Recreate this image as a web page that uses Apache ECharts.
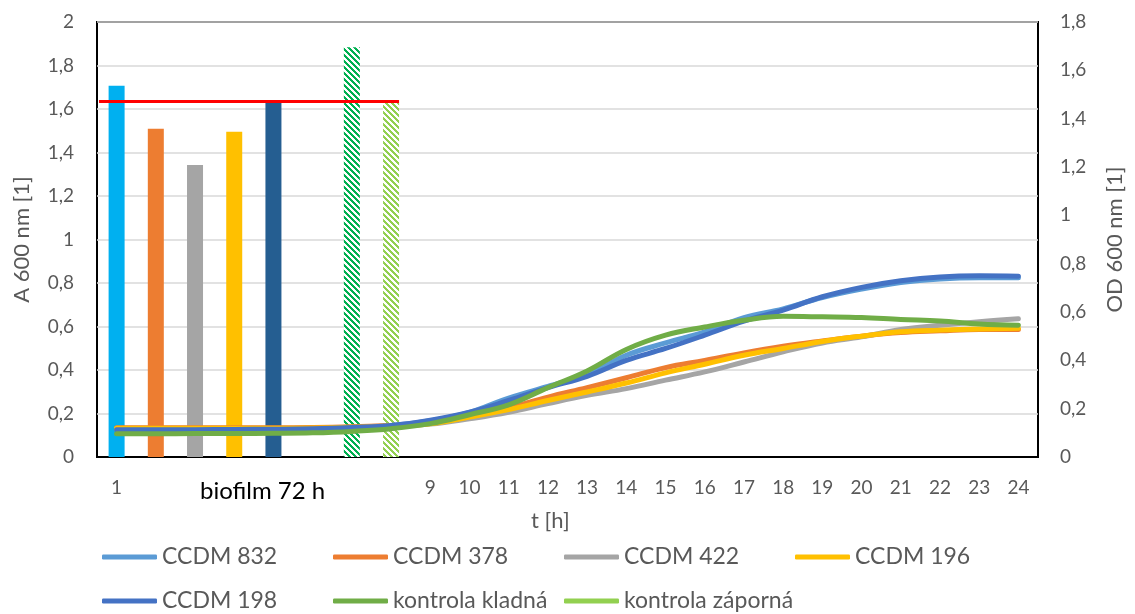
<!DOCTYPE html>
<html>
<head>
<meta charset="utf-8">
<script src="https://cdn.jsdelivr.net/npm/echarts@6/dist/echarts.min.js"></script>
<style>
html,body{margin:0;padding:0;background:#fff;}
#chart{width:1135px;height:614px;}
</style>
</head>
<body>
<div id="chart"></div>
<script>
// ---------- DATA ----------
const categories = ['1','2','3','4','5','6','7','8','9','10','11','12','13','14','15','16','17','18','19','20','21','22','23','24'];
const xTickLabels = ['1','','','','','','','','9','10','11','12','13','14','15','16','17','18','19','20','21','22','23','24'];
const groupLabel = 'biofilm 72 h';
const xAxisName = 't [h]';
const leftAxisName = 'A 600 nm [1]';
const rightAxisName = 'OD 600 nm [1]';

// biofilm absorbance bars (left axis, A 600 nm)
const barValues = [1.707, 1.509, 1.343, 1.495, 1.635, null, 1.884, 1.635, null, null, null, null, null, null, null, null, null, null, null, null, null, null, null, null];
const threshold = 1.635;
const thresholdFrom = '1';
const thresholdTo = '8';

// growth curves (right axis, OD 600 nm)
const seriesNames = ['CCDM 832', 'CCDM 378', 'CCDM 422', 'CCDM 196', 'CCDM 198', 'kontrola kladná', 'kontrola záporná'];
const ccdm832 = [0.115, 0.115, 0.115, 0.116, 0.117, 0.119, 0.123, 0.130, 0.150, 0.185, 0.244, 0.292, 0.340, 0.421, 0.472, 0.518, 0.577, 0.613, 0.660, 0.695, 0.722, 0.737, 0.742, 0.742];
const ccdm378 = [0.121, 0.121, 0.121, 0.121, 0.121, 0.122, 0.125, 0.130, 0.140, 0.168, 0.204, 0.248, 0.287, 0.328, 0.370, 0.400, 0.431, 0.458, 0.480, 0.500, 0.515, 0.522, 0.528, 0.528];
const ccdm422 = [0.115, 0.115, 0.115, 0.115, 0.116, 0.117, 0.120, 0.126, 0.136, 0.158, 0.185, 0.221, 0.255, 0.283, 0.318, 0.352, 0.393, 0.435, 0.472, 0.497, 0.528, 0.545, 0.560, 0.572];
const ccdm196 = [0.119, 0.119, 0.119, 0.119, 0.119, 0.120, 0.123, 0.128, 0.138, 0.165, 0.196, 0.234, 0.269, 0.306, 0.348, 0.384, 0.421, 0.449, 0.478, 0.500, 0.518, 0.525, 0.530, 0.533];
const ccdm198 = [0.113, 0.113, 0.113, 0.114, 0.115, 0.117, 0.122, 0.130, 0.152, 0.185, 0.234, 0.287, 0.334, 0.400, 0.449, 0.504, 0.562, 0.608, 0.663, 0.702, 0.729, 0.745, 0.750, 0.748];
const kontrolaKladna = [0.096, 0.096, 0.097, 0.097, 0.098, 0.100, 0.106, 0.117, 0.138, 0.175, 0.216, 0.287, 0.356, 0.445, 0.504, 0.538, 0.566, 0.582, 0.580, 0.577, 0.569, 0.563, 0.550, 0.545];
const kontrolaZaporna = [];

// ---------- STYLE ----------
const lineColors = ['#5B9BD5', '#ED7D31', '#A5A5A5', '#FFC000', '#4472C4', '#70AD47', '#92D050'];
const FONT = 'Lato, "Open Sans", sans-serif';
const TXT = '#595959';
const BAR_W = 16;

function hatch(color) {
  const c = document.createElement('canvas');
  c.width = 6; c.height = 6;
  const ctx = c.getContext('2d');
  ctx.fillStyle = '#ffffff';
  ctx.fillRect(0, 0, 6, 6);
  ctx.fillStyle = color;
  for (let y = 0; y < 6; y++) for (let x = 0; x < 6; x++) {
    if ((((x - y) % 6) + 6) % 6 < 3) ctx.fillRect(x, y, 1, 1);
  }
  return { image: c, repeat: 'repeat' };
}
const barColors = ['#00B0F0', '#ED7D31', '#A5A5A5', '#FFC000', '#255E91', null, hatch('#00B050'), hatch('#92D050')];

const fmt = v => String(+(+v).toFixed(1)).replace('.', ',');

const lineData = [ccdm832, ccdm378, ccdm422, ccdm196, ccdm198, kontrolaKladna, kontrolaZaporna];

const chart = echarts.init(document.getElementById('chart'), null, { renderer: 'canvas' });

const legendPos = [[102, 544], [333, 544], [564, 544], [795, 544], [102, 588], [333, 588], [564, 588]];

const option = {
  animation: false,
  backgroundColor: '#ffffff',
  textStyle: { fontFamily: FONT },
  grid: { left: 97, right: 97, top: 22, bottom: 157, show: true, borderColor: '#000', borderWidth: 2, backgroundColor: 'transparent' },
  legend: seriesNames.map((n, i) => ({
    data: [n],
    left: legendPos[i][0],
    top: legendPos[i][1],
    padding: 0,
    icon: 'roundRect',
    itemWidth: 55,
    itemHeight: 5,
    selectedMode: false,
    textStyle: { fontFamily: FONT, fontSize: 23, color: TXT, lineHeight: 26 }
  })),
  xAxis: {
    type: 'category',
    data: categories,
    boundaryGap: true,
    axisLine: { show: true, lineStyle: { color: '#000', width: 2 } },
    axisTick: { show: false },
    axisLabel: {
      interval: 0, margin: 21, fontSize: 19, color: TXT, fontFamily: FONT,
      formatter: (v, i) => xTickLabels[i]
    },
    splitLine: { show: false }
  },
  yAxis: [
    {
      type: 'value', min: 0, max: 2, interval: 0.2, position: 'left',
      name: leftAxisName, nameLocation: 'middle', nameGap: 64, nameRotate: 90,
      nameTextStyle: { fontSize: 22, color: TXT, fontFamily: FONT },
      axisLine: { show: false }, axisTick: { show: false },
      axisLabel: { margin: 23, fontSize: 19, color: TXT, fontFamily: FONT, formatter: fmt },
      splitLine: { show: true, lineStyle: { color: '#D9D9D9', width: 1.5 } }
    },
    {
      type: 'value', min: 0, max: 1.8, interval: 0.2, position: 'right',
      name: rightAxisName, nameLocation: 'middle', nameGap: 66, nameRotate: 90,
      nameTextStyle: { fontSize: 22, color: TXT, fontFamily: FONT },
      axisLine: { show: false }, axisTick: { show: false },
      axisLabel: { margin: 22, fontSize: 19, color: TXT, fontFamily: FONT, formatter: fmt },
      splitLine: { show: false }
    }
  ],
  graphic: [
    { type: 'text', left: 200, top: 479, style: { text: groupLabel, fontSize: 24, fill: '#000', fontFamily: FONT } },
    { type: 'text', left: 531, top: 510, style: { text: xAxisName, fontSize: 22, fill: TXT, fontFamily: FONT } }
  ],
  series: [
    {
      name: 'biofilm',
      type: 'bar',
      xAxisIndex: 0, yAxisIndex: 0,
      barWidth: BAR_W,
      z: 1,
      data: barValues.map((v, i) => v == null ? null : { value: v, itemStyle: { color: barColors[i] } })
    },
    {
      name: 'threshold',
      type: 'custom',
      xAxisIndex: 0, yAxisIndex: 0,
      z: 2,
      clip: false,
      dimensions: ['from', 'to', 'value'],
      encode: { x: [0, 1], y: 2 },
      data: [[categories.indexOf(thresholdFrom), categories.indexOf(thresholdTo), threshold]],
      renderItem: function (params, api) {
        const p1 = api.coord([api.value(0), api.value(2)]);
        const p2 = api.coord([api.value(1), api.value(2)]);
        const band = api.size([1, 0])[0];
        return {
          type: 'line',
          shape: { x1: p1[0] - band / 2 + 2, y1: p1[1], x2: p2[0] + BAR_W / 2, y2: p2[1] },
          style: { stroke: '#FF0000', lineWidth: 3 }
        };
      }
    }
  ].concat(seriesNames.map((n, i) => ({
    name: n,
    type: 'line',
    xAxisIndex: 0, yAxisIndex: 1,
    data: lineData[i],
    smooth: 0.4,
    showSymbol: false,
    symbol: 'none',
    z: 3,
    itemStyle: { color: lineColors[i] },
    lineStyle: { color: lineColors[i], width: 5, cap: 'round', join: 'round' }
  })))
};
chart.setOption(option);
</script>
</body>
</html>
